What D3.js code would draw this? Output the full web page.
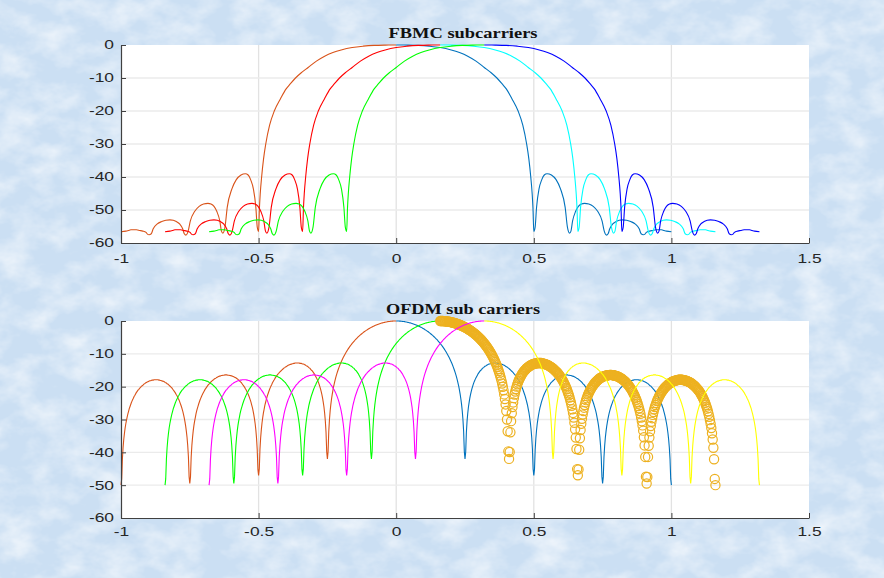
<!DOCTYPE html>
<html>
<head>
<meta charset="utf-8">
<script src="https://cdn.jsdelivr.net/npm/d3@7"></script>
<style>
  html, body { margin: 0; padding: 0; background: #d0e2f4; }
  svg { display: block; }
</style>
</head>
<body>
<div id="chart"></div>
<script>
  // axis ticks
  const xTicks = [-1, -0.5, 0, 0.5, 1, 1.5];
  const yTicks = [-60, -50, -40, -30, -20, -10, 0];

  // subcarrier centres (same for both panels)
  const centers = [0, 0.16, 0.32];

  // FBMC half spectrum: distance from centre / level in dB
  const fbmcDist = [
    0, 0.04, 0.08, 0.12, 0.16, 0.2, 0.23, 0.26, 0.29, 0.32, 0.345, 0.366, 0.385, 0.4, 0.42, 0.443, 0.46, 0.474, 0.482, 0.489, 0.494, 0.497, 0.5,
    0.505, 0.51, 0.519, 0.529, 0.538, 0.548, 0.564, 0.581, 0.597, 0.614, 0.622, 0.63,
    0.635, 0.641, 0.652, 0.662, 0.673, 0.684, 0.7, 0.716, 0.732, 0.748, 0.756, 0.764,
    0.77, 0.776, 0.787, 0.799, 0.81, 0.822, 0.837, 0.852, 0.868, 0.883, 0.89, 0.898,
    0.904, 0.909, 0.921, 0.932, 0.944, 0.955, 0.964, 0.973, 0.982, 1.0
  ];
  const fbmcDb = [
    0, -0.03, -0.12, -0.35, -0.75, -1.5, -2.3, -3.4, -4.9, -6.8, -8.4, -10, -11.8, -13.3, -16.2, -20, -24.3, -30, -34.5, -40, -45, -49.5, -56.5,
    -55.1, -49.2, -43.6, -40.8, -39.4, -39, -39.4, -40.8, -43.6, -49.2, -55.1, -57,
    -56.4, -53.3, -50.4, -48.9, -48.2, -48, -48.2, -48.9, -50.4, -53.3, -56.4, -57.6,
    -57.2, -55.7, -54.2, -53.5, -53.1, -53, -53.1, -53.5, -54.2, -55.7, -57.2, -57.5,
    -57.3, -56.8, -56.4, -56.2, -56, -56, -56, -56.2, -56.4, -56.6
  ];

  // OFDM half spectrum sampled every 0.0025 from the centre out to 1.0:
  // levels on the 0.005 grid ...
  const ofdmStep = 0.0025;
  const ofdmDbGrid = [
    0, -0.01, -0.02, -0.05, -0.09, -0.14, -0.2, -0.28, -0.36, -0.46,
    -0.57, -0.69, -0.83, -0.97, -1.13, -1.31, -1.49, -1.69, -1.91, -2.14,
    -2.38, -2.65, -2.92, -3.22, -3.53, -3.87, -4.22, -4.59, -4.99, -5.41,
    -5.86, -6.34, -6.84, -7.38, -7.96, -8.58, -9.24, -9.95, -10.72, -11.56,
    -12.48, -13.49, -14.61, -15.88, -17.34, -19.05, -21.12, -23.75, -27.42, -33.59,
    -42,
    -33.9, -28.1, -24.8, -22.4, -20.7, -19.3, -18.2, -17.3, -16.5, -15.8,
    -15.2, -14.8, -14.3, -14.0, -13.7, -13.4, -13.2, -13.1, -12.9, -12.9,
    -12.8, -12.8, -12.8, -12.9, -13.0, -13.1, -13.2, -13.4, -13.6, -13.9,
    -14.2, -14.5, -14.9, -15.3, -15.7, -16.2, -16.8, -17.4, -18.1, -18.9,
    -19.8, -20.8, -22.0, -23.3, -24.9, -26.9, -29.4, -33.0, -39.0,
    -47,
    -39.2, -33.2, -29.8, -27.4, -25.6, -24.1, -22.9, -21.9, -21.0, -20.3,
    -19.7, -19.1, -18.6, -18.2, -17.8, -17.5, -17.2, -17.0, -16.8, -16.7,
    -16.6, -16.5, -16.4, -16.4, -16.5, -16.5, -16.6, -16.8, -16.9, -17.1,
    -17.4, -17.6, -18.0, -18.3, -18.7, -19.2, -19.7, -20.3, -20.9, -21.7,
    -22.5, -23.5, -24.6, -25.9, -27.4, -29.4, -31.8, -35.4, -41.4,
    -49.5,
    -41.4, -35.5, -32.0, -29.6, -27.7, -26.2, -25.0, -23.9, -23.0, -22.3,
    -21.6, -21.0, -20.4, -20.0, -19.6, -19.2, -18.9, -18.7, -18.4, -18.3,
    -18.1, -18.0, -17.9, -17.9, -17.9, -17.9, -18.0, -18.1, -18.2, -18.4,
    -18.6, -18.8, -19.1, -19.5, -19.8, -20.3, -20.8, -21.3, -21.9, -22.7,
    -23.5, -24.4, -25.5, -26.7, -28.3, -30.2, -32.6, -36.1, -42.1,
    -50
  ];
  // ... and the levels half a step further out
  const ofdmDbMid = [
    0, -0.01, -0.04, -0.07, -0.12, -0.17, -0.24, -0.32, -0.41, -0.51,
    -0.63, -0.76, -0.9, -1.05, -1.22, -1.4, -1.59, -1.8, -2.02, -2.26,
    -2.51, -2.78, -3.07, -3.37, -3.7, -4.04, -4.4, -4.79, -5.2, -5.63,
    -6.1, -6.59, -7.11, -7.67, -8.27, -8.91, -9.59, -10.33, -11.14, -12.02,
    -12.97, -14.04, -15.23, -16.58, -18.15, -20.02, -22.35, -25.41, -30.0, -39.7,
    -39.9, -30.5, -26.2, -23.5, -21.5, -20.0, -18.7, -17.7, -16.9, -16.1,
    -15.5, -15.0, -14.5, -14.2, -13.8, -13.6, -13.3, -13.1, -13.0, -12.9,
    -12.8, -12.8, -12.8, -12.8, -12.9, -13.0, -13.2, -13.3, -13.5, -13.8,
    -14.0, -14.3, -14.7, -15.1, -15.5, -16.0, -16.5, -17.1, -17.8, -18.5,
    -19.4, -20.3, -21.4, -22.6, -24.1, -25.8, -28.0, -31.0, -35.5, -45.1,
    -45.2, -35.7, -31.3, -28.5, -26.4, -24.8, -23.5, -22.4, -21.5, -20.7,
    -20.0, -19.4, -18.8, -18.4, -18.0, -17.6, -17.3, -17.1, -16.9, -16.7,
    -16.6, -16.5, -16.5, -16.4, -16.4, -16.5, -16.6, -16.7, -16.8, -17.0,
    -17.2, -17.5, -17.8, -18.1, -18.5, -19.0, -19.4, -20.0, -20.6, -21.3,
    -22.1, -23.0, -24.0, -25.2, -26.6, -28.3, -30.5, -33.4, -37.9, -47.4,
    -47.5, -38.0, -33.6, -30.7, -28.6, -26.9, -25.6, -24.4, -23.5, -22.6,
    -21.9, -21.3, -20.7, -20.2, -19.8, -19.4, -19.1, -18.8, -18.5, -18.3,
    -18.2, -18.1, -18.0, -17.9, -17.9, -17.9, -18.0, -18.0, -18.2, -18.3,
    -18.5, -18.7, -19.0, -19.3, -19.7, -20.1, -20.5, -21.0, -21.6, -22.3,
    -23.0, -23.9, -24.9, -26.1, -27.5, -29.2, -31.3, -34.2, -38.6, -48.1
  ];
  // put both sets in order along the axis
  const ofdmDb = [];
  ofdmDbGrid.forEach((v, i) => {
    ofdmDb.push(v);
    if (i < ofdmDbMid.length) ofdmDb.push(ofdmDbMid[i]);
  });
  const ofdmDist = ofdmDb.map((d, i) => i * ofdmStep);

  // colours of the left / right halves for each centre
  const fbmcLeftColors = ["#D95319", "#FF0000", "#00FF00"];
  const fbmcRightColors = ["#0072BD", "#00FFFF", "#0000FF"];
  const ofdmLeftColors = ["#D95319", "#00FF00", "#FF00FF"];
  const ofdmRightColors = ["#0072BD", "#EDB120", "#FFFF00"];
  const ofdmRightMarkers = [false, true, false];

  const width = 884, height = 578;
  const left = 121, right = 809;

  const svg = d3.select("#chart")
    .append("svg")
      .attr("width", width)
      .attr("height", height);

  /* textured light blue backdrop */
  const defs = svg.append("defs");
  const flt = defs.append("filter").attr("id", "marble")
    .attr("x", 0).attr("y", 0).attr("width", "100%").attr("height", "100%");
  flt.append("feTurbulence")
    .attr("type", "fractalNoise")
    .attr("baseFrequency", "0.03 0.045")
    .attr("numOctaves", 4)
    .attr("seed", 11);
  flt.append("feColorMatrix")
    .attr("type", "matrix")
    .attr("values", "0 0 0 0 1  0 0 0 0 1  0 0 0 0 1  0 0 1.2 0 -0.45");

  svg.append("rect").attr("width", width).attr("height", height).attr("fill", "#cbdff3");
  svg.append("rect").attr("width", width).attr("height", height).attr("filter", "url(#marble)");

  const xScale = d3.scaleLinear().domain([-1, 1.5]).range([left, right]);

  // builds the points of one half of a subcarrier spectrum
  const half = (dist, db, c, side) =>
    dist.map((d, i) => ({x: c + side * d, y: db[i]}))
        .sort((a, b) => a.x - b.x);

  const styleTicks = sel => sel
    .attr("transform", "scale(1.45,1)")
    .attr("fill", "#262626")
    .style("font-family", "'Liberation Sans', Arial, sans-serif")
    .style("font-size", "12px");

  const drawPanel = (p) => {
    const yScale = d3.scaleLinear().domain([-60, 0]).range([p.bottom, p.top]);
    const g = svg.append("g");

    g.append("rect")
      .attr("x", left).attr("y", p.top)
      .attr("width", right - left).attr("height", p.bottom - p.top)
      .attr("fill", "#fff");

    // grid
    g.append("g").selectAll("line")
      .data(xTicks.slice(1, -1))
      .join("line")
        .attr("x1", d => xScale(d)).attr("x2", d => xScale(d))
        .attr("y1", p.top).attr("y2", p.bottom)
        .attr("stroke", "#e2e2e2").attr("stroke-width", 1.3);
    g.append("g").selectAll("line")
      .data(yTicks.slice(1, -1))
      .join("line")
        .attr("x1", left).attr("x2", right)
        .attr("y1", d => yScale(d)).attr("y2", d => yScale(d))
        .attr("stroke", "#ebebeb").attr("stroke-width", 1.3);

    // curves
    const lineFn = d3.line()
      .x(d => xScale(d.x))
      .y(d => yScale(d.y))
      .curve(p.curve);

    p.series.forEach(s => {
      if (s.marker) {
        g.append("g").selectAll("circle")
          .data(s.points)
          .join("circle")
            .attr("cx", d => xScale(d.x))
            .attr("cy", d => yScale(d.y))
            .attr("r", 4.6)
            .attr("fill", "none")
            .attr("stroke", s.color)
            .attr("stroke-width", 1.2);
      } else {
        g.append("path")
          .datum(s.points)
          .attr("d", lineFn)
          .attr("fill", "none")
          .attr("stroke", s.color)
          .attr("stroke-width", 1.1);
      }
    });

    // axes
    const xAxis = g.append("g")
        .attr("transform", `translate(0,${p.bottom})`)
        .attr("color", "#404040")
      .call(d3.axisBottom(xScale).tickValues(xTicks).tickSize(-5).tickSizeOuter(0)
        .tickPadding(p.xPad).tickFormat(d => String(d)));
    styleTicks(xAxis.selectAll("text"));

    const yAxis = g.append("g")
        .attr("transform", `translate(${left},0)`)
        .attr("color", "#404040")
      .call(d3.axisLeft(yScale).tickValues(yTicks).tickSize(-5).tickSizeOuter(0)
        .tickPadding(4.8).tickFormat(d => String(d)));
    styleTicks(yAxis.selectAll("text"));
    g.selectAll(".domain").attr("stroke-width", 1.2);

    // title
    g.append("text")
      .attr("x", 463 - p.titleLen / 2)
      .attr("y", p.titleY)
      .attr("textLength", p.titleLen)
      .attr("lengthAdjust", "spacingAndGlyphs")
      .style("font-family", "'Liberation Serif', 'DejaVu Serif', serif")
      .style("font-weight", "bold")
      .style("font-size", "15px")
      .attr("fill", "#111")
      .text(p.title);
  };

  const fbmcSeries = [];
  centers.forEach((c, i) => {
    fbmcSeries.push({color: fbmcLeftColors[i], points: half(fbmcDist, fbmcDb, c, -1)});
    fbmcSeries.push({color: fbmcRightColors[i], points: half(fbmcDist, fbmcDb, c, 1)});
  });

  const ofdmSeries = [];
  centers.forEach((c, i) => {
    ofdmSeries.push({color: ofdmLeftColors[i], points: half(ofdmDist, ofdmDb, c, -1)});
    ofdmSeries.push({color: ofdmRightColors[i], marker: ofdmRightMarkers[i],
                     points: half(ofdmDist, ofdmDb, c, 1)});
  });

  drawPanel({top: 45, bottom: 243, title: "FBMC subcarriers", titleY: 38, titleLen: 149,
             xPad: 11, curve: d3.curveMonotoneX, series: fbmcSeries});
  drawPanel({top: 321, bottom: 518, title: "OFDM sub carriers", titleY: 314, titleLen: 154,
             xPad: 9.5, curve: d3.curveLinear, series: ofdmSeries});
</script>
</body>
</html>
